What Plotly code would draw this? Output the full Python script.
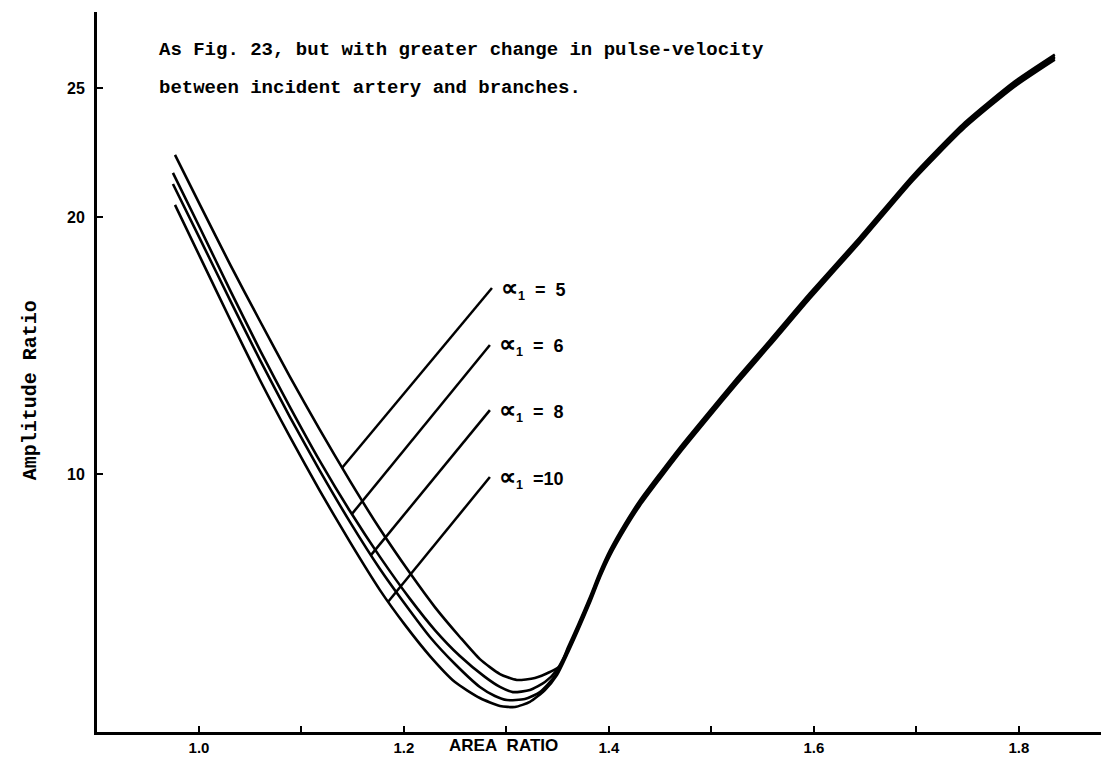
import plotly.graph_objects as go

# Area ratio (x) vs amplitude ratio (y) for four values of alpha_1
x_a5 = [0.9766, 1.001, 1.0302, 1.0595, 1.0888, 1.118, 1.1473, 1.1766, 1.2059, 1.2302, 1.2546,
        1.2741, 1.2937, 1.3102, 1.3278, 1.3424, 1.3522,
        1.36, 1.3698, 1.3815, 1.3912, 1.401, 1.4156, 1.4302, 1.4498, 1.4693, 1.4956,
        1.5249, 1.5571, 1.596, 1.6449, 1.6966, 1.7473, 1.7961, 1.8351]
y_a5 = [22.41, 20.47, 18.17, 15.96, 13.79, 11.73, 9.75, 7.88, 6.17, 4.85, 3.69,
        2.83, 2.25, 2.02, 2.10, 2.33, 2.56,
        3.28, 4.14, 5.23, 6.20, 7.05, 8.08, 8.99, 10.04, 11.05, 12.33,
        13.73, 15.21, 17.03, 19.21, 21.61, 23.67, 25.27, 26.31]

x_a6 = [0.9746, 1.001, 1.0302, 1.0595, 1.0888, 1.118, 1.1473, 1.1766, 1.2059, 1.2302, 1.2546,
        1.279, 1.2937, 1.3063, 1.3229, 1.3376, 1.3493,
        1.36, 1.3698, 1.3815, 1.3912, 1.401, 1.4156, 1.4302, 1.4498, 1.4693, 1.4956,
        1.5249, 1.5571, 1.596, 1.6449, 1.6966, 1.7473, 1.7961, 1.8351]
y_a6 = [21.71, 19.57, 17.17, 14.83, 12.62, 10.52, 8.58, 6.80, 5.17, 3.96, 2.95,
        2.14, 1.75, 1.55, 1.63, 1.94, 2.41,
        3.21, 4.07, 5.16, 6.13, 6.98, 8.01, 8.92, 9.97, 10.98, 12.26,
        13.66, 15.14, 16.96, 19.14, 21.54, 23.60, 25.20, 26.24]

x_a8 = [0.9746, 1.001, 1.0302, 1.0595, 1.0888, 1.118, 1.1473, 1.1766, 1.201, 1.2254, 1.2498,
        1.2741, 1.2888, 1.3005, 1.318, 1.3327, 1.3473,
        1.36, 1.3698, 1.3815, 1.3912, 1.401, 1.4156, 1.4302, 1.4498, 1.4693, 1.4956,
        1.5249, 1.5571, 1.596, 1.6449, 1.6966, 1.7473, 1.7961, 1.8351]
y_a8 = [21.28, 19.15, 16.78, 14.45, 12.23, 10.14, 8.16, 6.33, 4.97, 3.69, 2.64,
        1.75, 1.40, 1.24, 1.28, 1.55, 2.17,
        3.15, 4.01, 5.10, 6.07, 6.92, 7.95, 8.86, 9.91, 10.92, 12.20,
        13.60, 15.08, 16.90, 19.08, 21.48, 23.54, 25.14, 26.18]

x_a10 = [0.9766, 1.001, 1.0302, 1.0595, 1.0888, 1.118, 1.1473, 1.1766, 1.201, 1.2254, 1.2498,
         1.2741, 1.2937, 1.3083, 1.3229, 1.3376, 1.3493,
         1.36, 1.3698, 1.3815, 1.3912, 1.401, 1.4156, 1.4302, 1.4498, 1.4693, 1.4956,
         1.5249, 1.5571, 1.596, 1.6449, 1.6966, 1.7473, 1.7961, 1.8351]
y_a10 = [20.47, 18.45, 16.04, 13.67, 11.46, 9.36, 7.38, 5.51, 4.16, 2.95, 1.94,
         1.32, 1.01, 0.97, 1.17, 1.63, 2.21,
         3.08, 3.94, 5.03, 6.00, 6.85, 7.88, 8.79, 9.84, 10.85, 12.13,
         13.53, 15.01, 16.83, 19.01, 21.41, 23.47, 25.07, 26.11]

# Leader lines: curve end (x0, y0) -> label end (x1, y1)
alpha_values = ["5", "6", "8", "10"]
leader_x0 = [1.1395, 1.1493, 1.1678, 1.1844]
leader_y0 = [10.25, 8.47, 6.87, 5.05]
leader_x1 = [1.2859, 1.2839, 1.2839, 1.2839]
leader_y1 = [17.24, 15.03, 12.50, 9.90]

x_tick_vals = [1.0, 1.1, 1.2, 1.3, 1.4, 1.5, 1.6, 1.7, 1.8]
x_tick_text = ["1.0", "", "1.2", "", "1.4", "", "1.6", "", "1.8"]
y_tick_vals = [10, 20, 25]
y_tick_text = ["10", "20", "25"]

fig = go.Figure()
for xs, ys in [(x_a5, y_a5), (x_a6, y_a6), (x_a8, y_a8), (x_a10, y_a10)]:
    fig.add_trace(go.Scatter(x=xs, y=ys, mode="lines",
                             line=dict(color="black", width=2.6, shape="spline", smoothing=0.6),
                             showlegend=False, hoverinfo="skip"))

lab_font = dict(family="Liberation Sans", size=18, color="black", weight="bold")
for x0, y0, x1, y1, a in zip(leader_x0, leader_y0, leader_x1, leader_y1, alpha_values):
    fig.add_shape(type="line", x0=x0, y0=y0, x1=x1, y1=y1, xref="x", yref="y",
                  line=dict(color="black", width=2.5))
    sep = "\u00a0\u00a0=\u00a0\u00a0" if len(a) == 1 else "\u00a0\u00a0="
    txt = "<span style='font-size:24px'>∝</span><sub>1</sub>" + sep + a
    fig.add_annotation(x=x1 + 0.007, y=y1, xref="x", yref="y", text=txt, showarrow=False,
                       xanchor="left", yanchor="middle", font=lab_font)

mono = dict(family="Liberation Mono", size=19, color="black", weight="bold")
fig.add_annotation(x=0.0593, y=0.947, xref="paper", yref="paper", xanchor="left", yanchor="middle",
                   text="As Fig. 23, but with greater change in pulse-velocity", showarrow=False, font=mono)
fig.add_annotation(x=0.0593, y=0.894, xref="paper", yref="paper", xanchor="left", yanchor="middle",
                   text="between incident artery and branches.", showarrow=False, font=mono)
fig.add_annotation(x=-0.066, y=0.475, xref="paper", yref="paper", xanchor="center", yanchor="middle",
                   text="Amplitude Ratio", textangle=-90, showarrow=False,
                   font=dict(family="Liberation Mono", size=20, color="black", weight="bold"))
fig.add_annotation(x=1.297, y=-0.019, xref="x", yref="paper", xanchor="center", yanchor="middle",
                   text="AREA\u00a0\u00a0RATIO", showarrow=False,
                   font=dict(family="Liberation Sans", size=17, color="black", weight="bold"))

fig.update_layout(
    width=1101, height=755,
    margin=dict(l=89, r=0, t=4, b=31),
    paper_bgcolor="white", plot_bgcolor="white",
    xaxis=dict(range=[0.9005, 1.888], showline=True, linecolor="black", linewidth=3,
               ticks="inside", ticklen=6, tickwidth=2, tickcolor="black",
               tickvals=x_tick_vals, ticktext=x_tick_text, showgrid=False, zeroline=False,
               tickfont=dict(family="Liberation Sans", size=15, color="black", weight="bold")),
    yaxis=dict(range=[0, 27.96], showline=True, linecolor="black", linewidth=3,
               ticks="inside", ticklen=6, tickwidth=2, tickcolor="black",
               tickvals=y_tick_vals, ticktext=y_tick_text, showgrid=False, zeroline=False,
               ticklabelstandoff=6,
               tickfont=dict(family="Liberation Sans", size=16, color="black", weight="bold")),
)

fig.write_html("out.html")
